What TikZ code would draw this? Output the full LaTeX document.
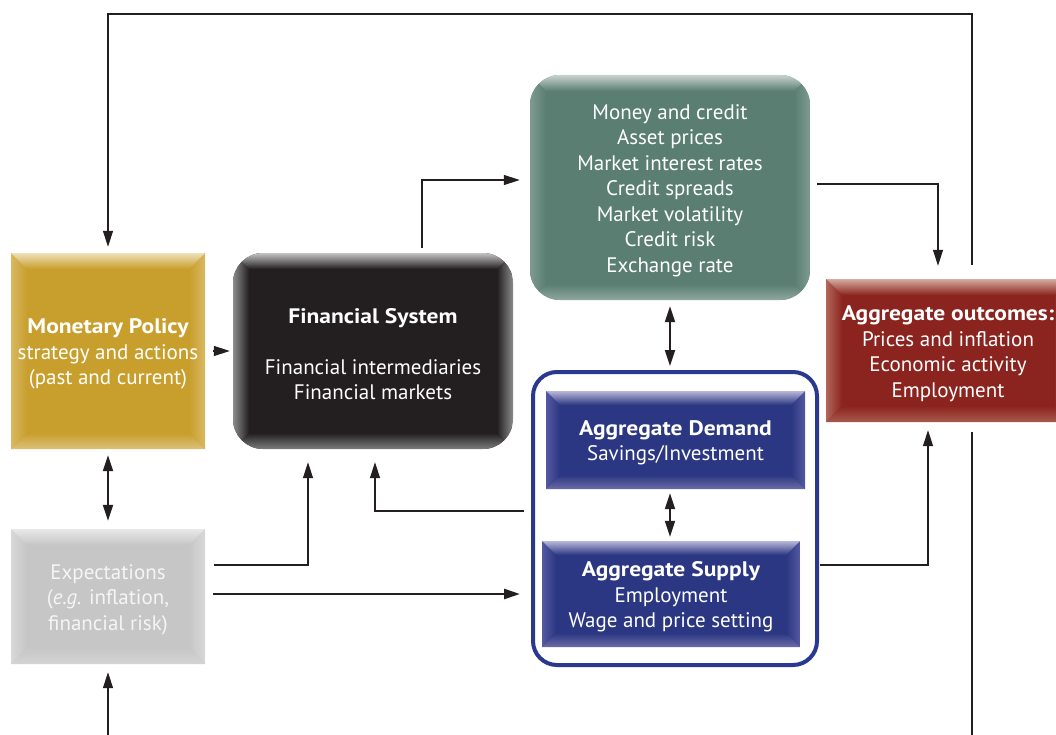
\documentclass[tikz,border=0pt]{standalone}
\usepackage{fontspec}
\setmainfont{PT Sans}
\usetikzlibrary{arrows.meta}
\definecolor{gold}{HTML}{C89F2D}
\definecolor{goldT}{HTML}{EEE0B8}
\definecolor{goldB}{HTML}{DCC07A}
\definecolor{goldS}{HTML}{D8B862}
\definecolor{fsk}{HTML}{231F20}
\definecolor{fskT}{HTML}{C4C4C4}
\definecolor{fskB}{HTML}{7E7E7E}
\definecolor{fskS}{HTML}{8C8C8C}
\definecolor{grn}{HTML}{5A7F72}
\definecolor{grnT}{HTML}{C8D2CF}
\definecolor{grnB}{HTML}{90A79E}
\definecolor{grnS}{HTML}{7E9A90}
\definecolor{aor}{HTML}{8B241E}
\definecolor{aorT}{HTML}{D6ABA0}
\definecolor{aorB}{HTML}{A95A4C}
\definecolor{aorS}{HTML}{B2675A}
\definecolor{nvy}{HTML}{2B3782}
\definecolor{nvyT}{HTML}{B8B6D8}
\definecolor{nvyB}{HTML}{6C6BA6}
\definecolor{nvyS}{HTML}{5558A0}
\definecolor{frm}{HTML}{2A3990}
\definecolor{exg}{HTML}{C6C6C6}
\definecolor{exgT}{HTML}{E8E8E8}
\definecolor{exgB}{HTML}{D4D4D4}
\definecolor{exgS}{HTML}{D8D8D8}
\definecolor{ink}{HTML}{231F20}
% x1,y1,x2,y2,colour,radius,depth
\newcommand{\bevelbox}[7]{%
\begin{scope}
\clip[rounded corners=#6pt] (#1,#2) rectangle (#3,#4);
\fill[#5] (#1,#2) rectangle (#3,#4);
\shade[left color=#5S, right color=#5] (#1,#2) -- (#1+#7,#2+#7) -- (#1+#7,#4-#7) -- (#1,#4) -- cycle;
\shade[left color=#5, right color=#5S] (#3,#2) -- (#3-#7,#2+#7) -- (#3-#7,#4-#7) -- (#3,#4) -- cycle;
\shade[top color=#5T, bottom color=#5] (#1,#2) -- (#3,#2) -- (#3-#7,#2+#7) -- (#1+#7,#2+#7) -- cycle;
\shade[top color=#5, bottom color=#5B] (#1,#4) -- (#3,#4) -- (#3-#7,#4-#7) -- (#1+#7,#4-#7) -- cycle;
\end{scope}}
\newcommand{\hd}[1]{\scalebox{1.12}[1]{\bfseries #1}}
\tikzset{
  box/.style={inner sep=0pt},
  lbl/.style={align=center, text=white, font=\fontsize{21}{25.5}\selectfont, inner sep=0pt, yshift=-3pt},
  tip/.tip={Triangle[length=16pt,width=10pt]},
  arr/.style={draw=ink, line width=1.2pt, -tip},
  thinline/.style={draw=ink, line width=1.2pt},
  darr/.style={draw=ink, line width=2pt, tip-tip},
  tharr/.style={draw=ink, line width=2.6pt, -tip},
}
\begin{document}
\begin{tikzpicture}[x=1pt,y=-1pt]
\useasboundingbox (0,0) rectangle (1056,735);
\fill[white] (0,0) rectangle (1056,735);
% backgrounds
\bevelbox{11}{253}{205}{449}{gold}{0}{16}
\bevelbox{233}{253}{513}{449}{fsk}{30}{16}
\bevelbox{530}{75}{810}{300}{grn}{30}{16}
\bevelbox{826}{279}{1070}{422}{aor}{0}{16}
\bevelbox{11}{529}{205}{664}{exg}{0}{16}
\node[draw=frm, line width=4pt, rounded corners=24pt, minimum width=284pt, minimum height=293pt, inner sep=0pt] (frame) at (675,518.5) {};
\bevelbox{546}{391}{805}{489}{nvy}{0}{14}
\bevelbox{542}{541}{800}{647}{nvy}{0}{14}
% box nodes
\node[box, minimum width=194pt, minimum height=196pt] (mp) at (108,351) {};
\node[box, minimum width=280pt, minimum height=196pt] (fs) at (373,351) {};
\node[box, minimum width=280pt, minimum height=225pt] (gr) at (670,187.5) {};
\node[box, minimum width=244pt, minimum height=143pt] (ao) at (948,350.5) {};
\node[box, minimum width=259pt, minimum height=98pt] (ad) at (675.5,440) {};
\node[box, minimum width=258pt, minimum height=106pt] (as) at (671,594) {};
\node[box, minimum width=194pt, minimum height=135pt] (ex) at (108,596.5) {};
% texts
\node[lbl] (mpt) at (mp) {\hd{Monetary Policy}\\strategy and actions\\(past and current)};
\node[lbl] (fst) at (fs) {\hd{Financial System}\\[25.5pt]Financial intermediaries\\Financial markets};
\node[lbl] (grt) at (gr) {Money and credit\\Asset prices\\Market interest rates\\Credit spreads\\Market volatility\\Credit risk\\Exchange rate};
\node[lbl] (aot) at (ao) {\hd{Aggregate outcomes:}\\Prices and inflation\\Economic activity\\Employment};
\node[lbl] (adt) at (ad) {\hd{Aggregate Demand}\\Savings/Investment};
\node[lbl] (ast) at (as) {\hd{Aggregate Supply}\\Employment\\Wage and price setting};
\node[lbl, text=white!96!black] (ext) at (ex) {Expectations\\(\textit{e.g.} inflation,\\financial risk)};
% elbow coordinates
\coordinate (t1) at (972,14);
\coordinate (t2) at (108,14);
\coordinate (b1) at (972,745);
\coordinate (b2) at (108,745);
\coordinate (k1) at (422,180);
\coordinate (k2) at (938,184);
\coordinate (k3) at (308,565);
\coordinate (k4) at (375,511);
\coordinate (k5) at (0,594);
\coordinate (k6) at (928,565);
\coordinate (k7) at (670,0);
% connectors
\draw[arr, shorten <=14pt, shorten >=6pt] (ao.north -| t1) -- (t1) -- (t2) -- (mp.north);
\draw[thinline, shorten <=10pt] (ao.south -| b1) -- (b1);
\draw[arr, shorten >=8pt] (b2) -- (ex.south);
\draw[arr, shorten <=8pt, shorten >=3pt] (mp.east) -- (fs.west);
\draw[arr, shorten <=5pt, shorten >=10pt] (fs.north -| k1) |- (gr.west |- k1);
\draw[arr, shorten <=7pt, shorten >=13pt] (gr.east |- k2) -| (ao.north -| k2);
\draw[darr, shorten <=6pt, shorten >=4pt] (gr.south) -- (frame.north -| gr.south);
\draw[darr, shorten <=6pt, shorten >=8pt] (mp.south) -- (ex.north);
\draw[arr, shorten <=9pt, shorten >=13pt] (ex.east |- k3) -| (fs.south -| k3);
\draw[arr, shorten <=7pt, shorten >=13pt] (frame.west |- k4) -| (fs.south -| k4);
\draw[tharr, shorten <=8pt, shorten >=11pt] (ex.east |- k5) -- (frame.west |- k5);
\draw[darr, shorten <=4pt, shorten >=4pt] (ad.south -| k7) -- (as.north -| k7);
\draw[arr, shorten <=1pt, shorten >=8pt] (frame.east |- k6) -| (ao.south -| k6);
\end{tikzpicture}
\end{document}
